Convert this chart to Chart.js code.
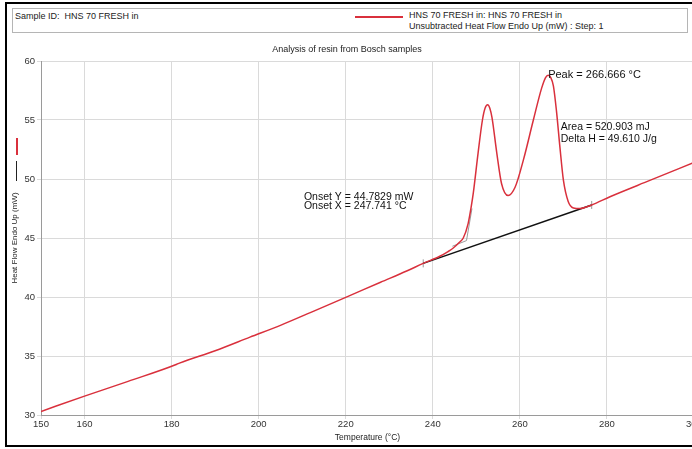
<!DOCTYPE html>
<html>
<head>
<meta charset="utf-8">
<script src="https://cdn.jsdelivr.net/npm/chart.js@4.4.1/dist/chart.umd.min.js"></script>
<style>
    body { margin: 0; overflow: hidden; background: #fff; font-family: "Liberation Sans", Arial, sans-serif; }
    #frame { position: absolute; left: 5px; top: 2px; width: 720px; height: 441px; border: 2px solid #000; }
    #header { position: absolute; left: 12px; top: 8px; width: 674px; height: 23px; border: 1px solid #b5b5b5; font-size: 9px; color: #222; }
    #header .sample { position: absolute; left: 2px; top: 2px; }
    #header .swatch { position: absolute; left: 342px; top: 7px; width: 48px; height: 2px; background: #d9303c; }
    #header .legend { position: absolute; left: 396px; top: 1px; line-height: 11px; }
    #chart { position: absolute; left: 0; top: 36px; }
    .mark { position: absolute; left: 16px; width: 2px; }
</style>
</head>
<body>
<div id="frame"></div>
<div id="header">
    <div class="sample">Sample ID:&nbsp; HNS 70 FRESH in</div>
    <div class="swatch"></div>
    <div class="legend">HNS 70 FRESH in: HNS 70 FRESH in<br>Unsubtracted Heat Flow Endo Up (mW) : Step: 1</div>
</div>
<canvas id="chart" width="700" height="409"></canvas>
<div class="mark" style="top:138px;height:17px;background:#d9303c"></div>
<div class="mark" style="top:161px;height:20px;width:1px;background:#222"></div>
<script>
const temperature = [150, 160, 170, 181.2, 181.8, 190, 198, 205, 212, 220, 228, 234, 237.8, 241.6, 243.5, 244.7, 246.0, 247.0, 248.1, 248.8, 249.3, 250.4, 251.4, 252.0, 252.6, 253.1, 253.6, 254.7, 255.8, 257.3, 258.9, 260.8, 263.1, 265.0, 265.9, 266.5, 267.1, 267.7, 268.4, 269.2, 270.0, 271.1, 272.3, 273.8, 276.5, 280.7, 290, 300];
const heatFlow = [30.3, 31.6, 32.85, 34.3, 34.4, 35.45, 36.6, 37.6, 38.7, 39.97, 41.25, 42.2, 42.85, 43.45, 43.85, 44.15, 44.6, 45.0, 46.2, 47.6, 48.8, 52.2, 55.0, 56.0, 56.3, 56.0, 55.2, 52.2, 49.6, 48.6, 49.3, 51.6, 55.0, 57.7, 58.6, 58.8, 58.6, 57.9, 55.8, 52.7, 49.9, 48.1, 47.55, 47.5, 47.8, 48.5, 49.9, 51.4];

const baselineT = [237.8, 276.5];
const baselineV = [42.85, 47.8];
const tangentT = [244.5, 247.741, 249.0];
const tangentV = [44.3, 44.78, 47.5];

const xTicks = [150, 160, 180, 200, 220, 240, 260, 280, 300];

// text notes anchored at data coordinates
const notes = [
    { x: 266.5, y: 58.8, lines: ["Peak = 266.666 °C"], size: 11 },
    { x: 269.4, y: 54.4, lines: ["Area = 520.903 mJ", "Delta H = 49.610 J/g"], size: 10.5, gap: 12 },
    { x: 210.4, y: 48.46, lines: ["Onset Y = 44.7829 mW", "Onset X = 247.741 °C"], size: 10.5, gap: 9 }
];

const toPoints = (xs, ys) => xs.map((x, i) => ({ x, y: ys[i] }));
const FONT = "'Liberation Sans', Arial, sans-serif";

const notesPlugin = {
    id: "notes",
    afterDatasetsDraw(chart) {
        const { ctx, scales: { x, y } } = chart;
        ctx.save();
        ctx.fillStyle = "#111";
        ctx.textAlign = "left";
        ctx.textBaseline = "middle";
        notes.forEach(note => {
            ctx.font = note.size + "px " + FONT;
            const px = x.getPixelForValue(note.x);
            const py = y.getPixelForValue(note.y);
            note.lines.forEach((line, i) => ctx.fillText(line, px, py + i * (note.gap || 0)));
        });
        ctx.restore();
    }
};

new Chart(document.getElementById("chart"), {
    type: "line",
    data: {
        datasets: [
            { data: toPoints(temperature, heatFlow), borderColor: "#d9303c", borderWidth: 1.5, pointRadius: 0, cubicInterpolationMode: "monotone", order: 1 },
            { data: toPoints(baselineT, baselineV), borderColor: "#111", borderWidth: 1.5, pointRadius: 0, order: 2 },
            { data: toPoints(tangentT, tangentV), borderColor: "#9a9a9a", borderWidth: 1, pointRadius: 0, order: 3 },
            { data: toPoints(baselineT, baselineV), showLine: false, pointStyle: "line", rotation: 90, pointRadius: 4, borderColor: "#999", borderWidth: 1, order: 4 }
        ]
    },
    options: {
        responsive: false,
        animation: false,
        devicePixelRatio: 1,
        layout: { padding: { left: 0, right: 6, top: 0, bottom: 0 } },
        plugins: {
            legend: { display: false },
            tooltip: { enabled: false },
            title: { display: true, text: "Analysis of resin from Bosch samples", color: "#222", font: { size: 9, family: FONT, weight: "normal" }, padding: { top: 8, bottom: 6.2 } }
        },
        scales: {
            x: {
                type: "linear", min: 150, max: 300,
                afterBuildTicks: scale => { scale.ticks = xTicks.map(value => ({ value })); },
                afterFit: scale => { scale.height = 30; scale.paddingLeft = 0; scale.paddingRight = 0; },
                grid: { color: "#dadada", tickLength: 4 },
                border: { color: "#9a9a9a" },
                ticks: { color: "#333", padding: 0, maxRotation: 0, autoSkip: false, font: { size: 9.5, family: FONT } },
                title: { display: true, text: "Temperature (°C)", color: "#222", padding: { top: 0, bottom: 2 }, font: { size: 8.5, family: FONT } }
            },
            y: {
                min: 30, max: 60,
                afterFit: scale => { scale.width = 41; scale.paddingTop = 0; scale.paddingBottom = 0; },
                grid: { color: "#dadada", tickLength: 4 },
                border: { color: "#9a9a9a" },
                ticks: { stepSize: 5, color: "#333", padding: 2, font: { size: 9.5, family: FONT } },
                title: { display: true, text: "Heat Flow Endo Up (mW)", color: "#222", padding: { top: 10, bottom: 0 }, font: { size: 8, family: FONT } }
            }
        }
    },
    plugins: [notesPlugin]
});
</script>
</body>
</html>
